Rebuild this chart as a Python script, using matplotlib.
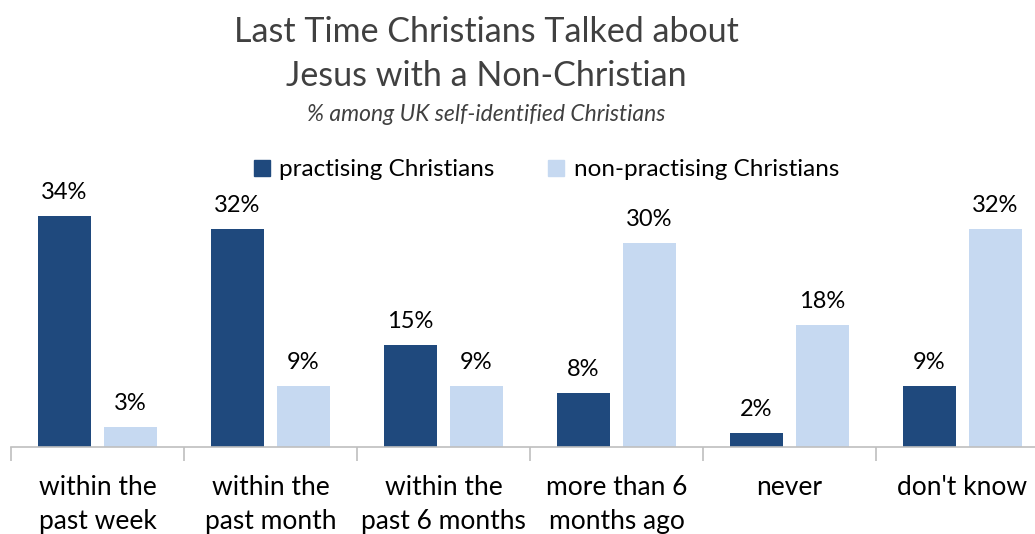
import numpy as np
import matplotlib.pyplot as plt
from matplotlib.patches import Patch

plt.rcParams['font.family'] = ['Lato', 'DejaVu Sans']

# Data
categories = ['within the\npast week', 'within the\npast month', 'within the\npast 6 months',
              'more than 6\nmonths ago', 'never', "don't know"]
practising = [34, 32, 15, 8, 2, 9]
non_practising = [3, 9, 9, 30, 18, 32]
series_names = ['practising Christians', 'non-practising Christians']

dark = '#1F497D'
light = '#C6D9F1'

fig = plt.figure(figsize=(10.35, 5.34), dpi=100)
# axes loopt rechts iets buiten de figuur, zoals in het origineel
ax = fig.add_axes([11 / 1035, 87 / 534, 1038 / 1035, 272 / 534])

x = np.arange(len(categories))
w = 53 / 173
off = 33 / 173
b1 = ax.bar(x - off, practising, w, color=dark)
b2 = ax.bar(x + off, non_practising, w, color=light)

for bars, vals in [(b1, practising), (b2, non_practising)]:
    for b, v in zip(bars, vals):
        ax.text(b.get_x() + b.get_width() / 2, v + 1.9, f'{v}%', ha='center', va='bottom',
                fontsize=17, color='black')

ax.set_xlim(-0.5, len(categories) - 0.5)
ax.set_ylim(0, 40)
ax.set_yticks([])
for s in ['top', 'right', 'left']:
    ax.spines[s].set_visible(False)
ax.spines['bottom'].set_color('#BFBFBF')
ax.spines['bottom'].set_linewidth(1.2)

ax.set_xticks(x)
ax.set_xticklabels(categories, fontsize=19, color='black', linespacing=1.42)
ax.tick_params(axis='x', which='major', length=0, pad=20.5)
ax.set_xticks(np.arange(len(categories) + 1) - 0.5, minor=True)
ax.tick_params(axis='x', which='minor', length=10, color='#BFBFBF', width=1.2)

fig.text(0.47, 0.94, 'Last Time Christians Talked about', ha='center', va='center',
         fontsize=24.5, color='#404040')
fig.text(0.47, 0.857, 'Jesus with a Non-Christian', ha='center', va='center',
         fontsize=24.5, color='#404040')
fig.text(0.47, 0.786, '% among UK self-identified Christians', ha='center', va='center',
         fontsize=16.5, style='italic', color='#404040')

handles = [Patch(color=dark), Patch(color=light)]
fig.legend(handles, series_names, loc='center', bbox_to_anchor=(0.528, 0.682), ncol=2,
           frameon=False, fontsize=17.5, handlelength=0.65, handleheight=0.65,
           handletextpad=0.4, columnspacing=2.2)

fig.savefig('out.png', dpi=100)
